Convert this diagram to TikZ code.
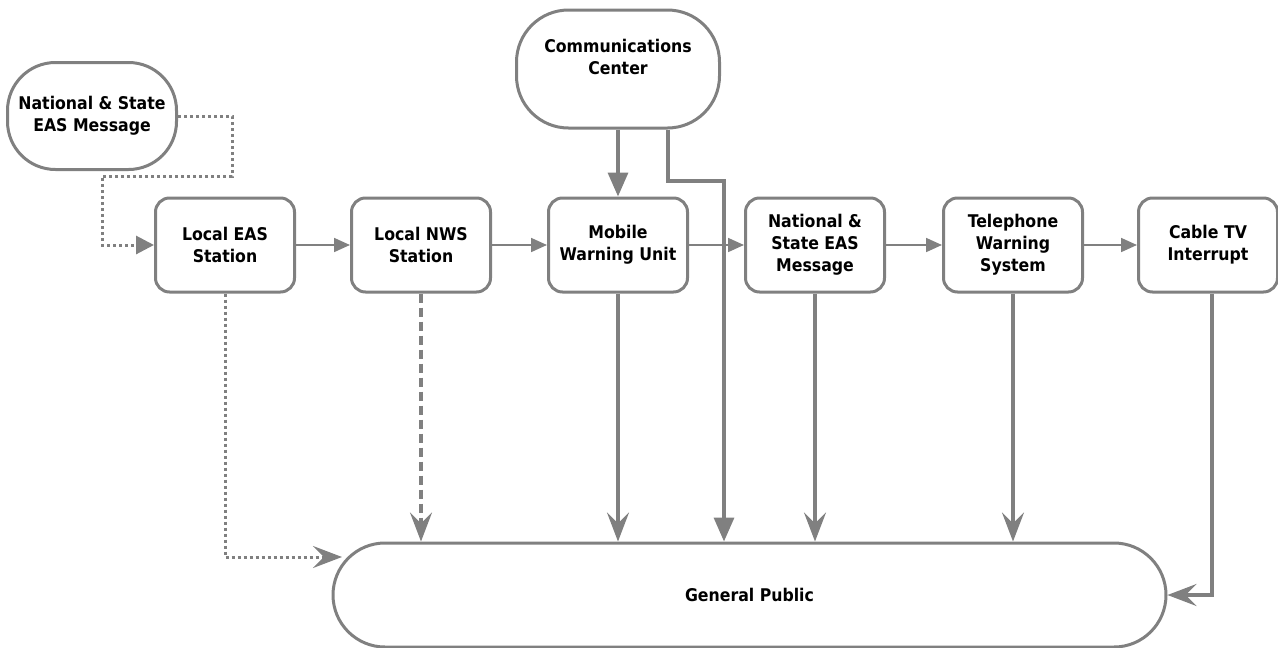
\documentclass[tikz,border=0pt]{standalone}
\usepackage{fontspec}
\setmainfont{DejaVu Sans Condensed}
\usepackage{tikz}
\usetikzlibrary{arrows.meta}
\definecolor{linegray}{RGB}{128,128,128}

\begin{document}
\begin{tikzpicture}[x=1pt,y=-1pt,
    font=\fontsize{17.5}{22}\selectfont\bfseries,
    station/.style={draw=linegray, line width=3pt, rounded corners=14pt,
        minimum width=139pt, minimum height=94pt, align=center, fill=white},
    source/.style={draw=linegray, line width=3pt, rounded corners=48pt,
        align=center, fill=white},
    link/.style={draw=linegray, line width=1.8pt, -{Triangle[length=16pt,width=14pt]}},
    feed/.style={draw=linegray, line width=3.4pt, -{Triangle[length=24pt,width=20pt]}},
    reach/.style={draw=linegray, line width=3.4pt, -{Stealth[length=29pt,width=22pt,inset=11pt]}}]

    \useasboundingbox (0,0) rectangle (1278,648);

    % Sources
    \node[source, minimum width=169pt, minimum height=107pt] (nsrc) at (92,116)
        {National \& State\\EAS Message};
    \node[source, minimum width=203pt, minimum height=118pt, rounded corners=52pt,
        text depth=24pt] (comm) at (618,69)
        {Communications\\Center};

    % Row of stations
    \node[station] (leas) at (225,245) {Local EAS\\Station};
    \node[station] (lnws) at (421,245) {Local NWS\\Station};
    \node[station] (mwu)  at (618,245) {Mobile\\Warning Unit};
    \node[station] (nsem) at (815,245) {National \&\\State EAS\\Message};
    \node[station] (tws)  at (1013,245) {Telephone\\Warning\\System};
    \node[station] (ctv)  at (1208,245) {Cable TV\\Interrupt};

    % Receiver
    \node[source, minimum width=833pt, minimum height=104pt, rounded corners=52pt] (gp) at (749.5,595)
        {General Public};

    % Helper points
    \coordinate (nbend) at (232,176);
    \coordinate (cbend) at (724,181);
    \coordinate (gpleft) at (342,557);

    % Feed into the first station
    \draw[draw=linegray, line width=3pt, dash pattern=on 3pt off 3pt,
        -{Triangle[length=18pt,width=18pt]}]
        (nsrc.east) -| (nbend) -| (102,245) -- (leas.west);

    % Chain of stations
    \draw[link] (leas) -- (lnws);
    \draw[link] (lnws) -- (mwu);
    \draw[link] (mwu) -- (nsem);
    \draw[link] (nsem) -- (tws);
    \draw[link] (tws) -- (ctv);

    % Communications center
    \draw[feed] (comm.south) -- (mwu);
    \draw[feed] ([xshift=50pt]comm.south) |- (cbend) -- (cbend |- gp.north);

    % Down to the public
    \draw[draw=linegray, line width=3pt, dash pattern=on 3pt off 3pt,
        -{Stealth[length=29pt,width=22pt,inset=11pt]}] (leas.south) |- (gpleft);
    \draw[reach, dash pattern=on 9pt off 5pt] (lnws.south) -- (lnws.south |- gp.north);
    \draw[reach] (mwu.south) -- (mwu.south |- gp.north);
    \draw[reach] (nsem.south) -- (nsem.south |- gp.north);
    \draw[reach] (tws.south) -- (tws.south |- gp.north);
    \draw[reach] ([xshift=4pt]ctv.south) |- (gp.east);
\end{tikzpicture}
\end{document}
